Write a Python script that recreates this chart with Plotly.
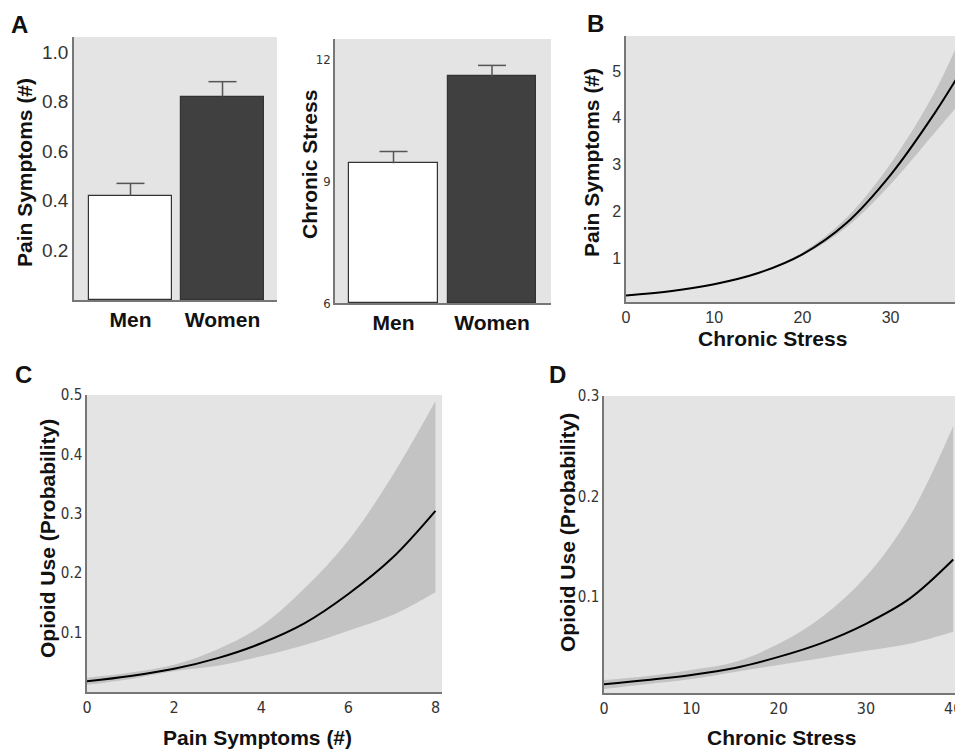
import plotly.graph_objects as go

W, H = 955, 749

# ---------------- data ----------------
groups = ["Men", "Women"]
pain_means = [0.42, 0.82]
pain_err = [0.05, 0.06]
stress_means = [9.44, 11.58]
stress_err = [0.29, 0.27]

# Panel B: chronic stress -> pain symptoms
b_x = [0, 5, 10, 15, 20, 25, 30, 35, 38]
b_mean = [0.20, 0.29, 0.44, 0.68, 1.08, 1.75, 2.78, 4.10, 5.00]
b_lo = [0.19, 0.28, 0.43, 0.67, 1.05, 1.66, 2.58, 3.68, 4.35]
b_hi = [0.21, 0.30, 0.45, 0.69, 1.12, 1.86, 3.02, 4.55, 5.75]

# Panel C: pain symptoms -> opioid use
c_x = [0, 1, 2, 3, 4, 5, 6, 7, 8]
c_mean = [0.018, 0.027, 0.039, 0.057, 0.082, 0.116, 0.165, 0.225, 0.305]
c_lo = [0.012, 0.022, 0.035, 0.044, 0.060, 0.079, 0.103, 0.129, 0.168]
c_hi = [0.024, 0.033, 0.046, 0.072, 0.111, 0.175, 0.255, 0.363, 0.490]

# Panel D: chronic stress -> opioid use
d_x = [0, 5, 10, 15, 20, 25, 30, 35, 40]
d_mean = [0.0127, 0.017, 0.022, 0.029, 0.040, 0.054, 0.073, 0.098, 0.137]
d_lo = [0.008, 0.013, 0.018, 0.025, 0.032, 0.039, 0.046, 0.053, 0.065]
d_hi = [0.017, 0.021, 0.027, 0.035, 0.053, 0.080, 0.120, 0.180, 0.270]

BG = "#e4e4e4"
BAND = "#c3c3c3"
AXC = "#777777"
FONT = "Liberation Sans, Arial, sans-serif"
NARROW = "Liberation Sans Narrow, DejaVu Sans Condensed, Arial Narrow, Liberation Sans, sans-serif"

def px_dom_x(a, b):
    return [a / W, b / W]

def px_dom_y(top, bottom):
    return [1 - bottom / H, 1 - top / H]

fig = go.Figure()

def bars(means, base, errs, xa, ya):
    fig.add_trace(go.Bar(x=groups, y=[m - base for m in means], base=base, width=0.9,
                         marker=dict(color=["#ffffff", "#404040"], line=dict(color="#333333", width=1.2)),
                         xaxis=xa, yaxis=ya, showlegend=False))
    # upper error bar: cap marker at top, stem drawn downward to bar top
    fig.add_trace(go.Scatter(x=groups, y=[m + e for m, e in zip(means, errs)], mode="markers",
                             marker=dict(symbol="line-ew", size=20, line=dict(color="#555555", width=1.5)),
                             error_y=dict(type="data", array=[0, 0], arrayminus=errs, symmetric=False,
                                          color="#555555", thickness=1.5, width=0),
                             xaxis=xa, yaxis=ya, showlegend=False))

bars(pain_means, 0, pain_err, "x", "y")
bars(stress_means, 6, stress_err, "x2", "y2")

def band(xs, lo, hi, mean, xa, ya):
    fig.add_trace(go.Scatter(x=xs, y=lo, mode="lines", line=dict(width=0, shape="spline"),
                             xaxis=xa, yaxis=ya, showlegend=False, hoverinfo="skip"))
    fig.add_trace(go.Scatter(x=xs, y=hi, mode="lines", line=dict(width=0, shape="spline"),
                             fill="tonexty", fillcolor=BAND,
                             xaxis=xa, yaxis=ya, showlegend=False, hoverinfo="skip"))
    fig.add_trace(go.Scatter(x=xs, y=mean, mode="lines", line=dict(color="black", width=2, shape="spline"),
                             xaxis=xa, yaxis=ya, showlegend=False))

band(b_x, b_lo, b_hi, b_mean, "x3", "y3")
band(c_x, c_lo, c_hi, c_mean, "x4", "y4")
band(d_x, d_lo, d_hi, d_mean, "x5", "y5")

common_axis = dict(showline=True, linecolor=AXC, linewidth=1.5, mirror=False,
                   showgrid=False, zeroline=False, ticks="", automargin=False,
                   ticklabeloverflow="allow")

fig.update_layout(
    width=W, height=H, margin=dict(l=0, r=0, t=0, b=0, autoexpand=False),
    paper_bgcolor="white", plot_bgcolor=BG, font=dict(family=FONT, color="#222"),
    bargap=0,
    xaxis=dict(common_axis, domain=px_dom_x(74, 277), anchor="y", type="category",
               range=[-0.614, 1.592], tickvals=groups,
               ticktext=["<b>Men</b>", "<b>Women</b>"],
               tickfont=dict(size=21, color="#111")),
    yaxis=dict(common_axis, domain=px_dom_y(37, 300), anchor="x", range=[0, 1.06],
               tickvals=[0.2, 0.4, 0.6, 0.8, 1.0], tickformat=".1f",
               tickfont=dict(size=19, color="#333")),
    xaxis2=dict(common_axis, domain=px_dom_x(335, 551), anchor="y2", type="category",
                range=[-0.594, 1.599], tickvals=groups,
                ticktext=["<b>Men</b>", "<b>Women</b>"],
                tickfont=dict(size=21, color="#111")),
    yaxis2=dict(common_axis, domain=px_dom_y(39, 303), anchor="x2", range=[6, 12.5],
                tickvals=[6, 9, 12], tickfont=dict(size=13, family=NARROW, color="#333")),
    xaxis3=dict(common_axis, domain=px_dom_x(626, 955), anchor="y3", range=[0, 37.3],
                tickvals=[0, 10, 20, 30], tickfont=dict(size=16, color="#333")),
    yaxis3=dict(common_axis, domain=px_dom_y(36, 302), anchor="x3", range=[0.06, 5.75],
                tickvals=[1, 2, 3, 4, 5], tickfont=dict(size=16, color="#333")),
    xaxis4=dict(common_axis, domain=px_dom_x(87, 442), anchor="y4", range=[0, 8.15],
                tickvals=[0, 2, 4, 6, 8], tickfont=dict(size=16, family=NARROW, color="#333")),
    yaxis4=dict(common_axis, domain=px_dom_y(395, 692), anchor="x4", range=[0, 0.5],
                tickvals=[0.1, 0.2, 0.3, 0.4, 0.5], tickformat=".1f",
                tickfont=dict(size=15, family=NARROW, color="#333")),
    xaxis5=dict(common_axis, domain=px_dom_x(604, 955), anchor="y5", range=[0, 40.2],
                tickvals=[0, 10, 20, 30, 40], tickfont=dict(size=16, family=NARROW, color="#333")),
    yaxis5=dict(common_axis, domain=px_dom_y(396, 693), anchor="x5", range=[0.004, 0.3],
                tickvals=[0.1, 0.2, 0.3], tickformat=".1f",
                tickfont=dict(size=15, family=NARROW, color="#333")),
)

def ann(text, x, y, size=21, angle=0):
    fig.add_annotation(text=text, x=x / W, y=1 - y / H, xref="paper", yref="paper",
                       showarrow=False, textangle=angle, xanchor="center", yanchor="middle",
                       font=dict(size=size, family=FONT, color="#111"))

# panel letters
ann("<b>A</b>", 19, 25, 24)
ann("<b>B</b>", 595, 23, 24)
ann("<b>C</b>", 23, 374, 24)
ann("<b>D</b>", 557, 374, 24)

# axis titles
ann("<b>Pain Symptoms (#)</b>", 24, 173, 21, -90)
ann("<b>Chronic Stress</b>", 310, 165, 21, -90)
ann("<b>Pain Symptoms (#)</b>", 592, 163, 21, -90)
ann("<b>Chronic Stress</b>", 772, 338, 21)
ann("<b>Opioid Use (Probability)</b>", 47, 539, 21, -90)
ann("<b>Pain Symptoms (#)</b>", 257, 737, 21)
ann("<b>Opioid Use (Probability)</b>", 567, 533, 21, -90)
ann("<b>Chronic Stress</b>", 781, 737, 21)

fig.write_html("out.html", config={"displayModeBar": False},
               post_script="document.body.style.margin='0';document.body.style.overflow='hidden';")
